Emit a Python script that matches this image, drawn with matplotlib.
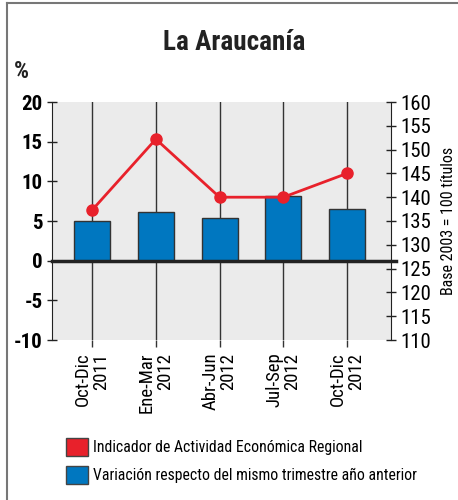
import matplotlib
matplotlib.use('Agg')
import matplotlib.pyplot as plt
from matplotlib.patches import Patch
from matplotlib.lines import Line2D

plt.rcParams['font.family'] = ['Roboto Condensed', 'DejaVu Sans Condensed',
                               'Liberation Sans Narrow', 'Roboto', 'DejaVu Sans']

# Datos trimestrales
trimestres = ['Oct-Dic\n2011', 'Ene-Mar\n2012', 'Abr-Jun\n2012', 'Jul-Sep\n2012', 'Oct-Dic\n2012']
variacion = [5.0, 6.1, 5.4, 8.1, 6.5]          # % respecto mismo trimestre año anterior
indicador = [137.3, 152.2, 140.0, 140.0, 145.0]  # índice base 2003 = 100

rojo = '#E8212B'
azul = '#0077C0'
oscuro = '#222222'

fig = plt.figure(figsize=(4.58, 5.0), dpi=100)
ax = fig.add_axes([52 / 458, 1 - 340 / 500, 339 / 458, 238 / 500])
ax.set_facecolor('#EBEBEB')

x = list(range(len(trimestres)))
ax.bar(x, variacion, width=0.565, color=azul, edgecolor='#333333', linewidth=1, zorder=2)
ax.set_xlim(-0.63, 4.69)
ax.set_ylim(-10, 20)
ax.set_yticks(range(-10, 21, 5))
ax.set_yticklabels([str(v) for v in range(-10, 21, 5)], fontsize=15, fontweight='bold')
ax.set_xticks(x)
ax.set_xticklabels(trimestres, rotation=90, fontsize=13.5, ha='center', va='top',
                   multialignment='right', linespacing=1.0)
ax.xaxis.grid(True, color='#333333', linewidth=1)
ax.set_axisbelow(True)
ax.tick_params(axis='x', length=5, width=1, color='#333333', pad=4)
ax.tick_params(axis='y', direction='inout', length=7, width=1, color=oscuro, pad=3)
for s in ['top', 'bottom', 'right']:
    ax.spines[s].set_visible(False)
ax.spines['left'].set_color(oscuro)

# línea de cero
ax.plot([0, 1.016], [0, 0], transform=ax.get_yaxis_transform(), color=oscuro,
        linewidth=2.5, clip_on=False, zorder=3)

ax2 = ax.twinx()
ax2.plot(x, indicador, color=rojo, linewidth=2, marker='o', markersize=8, zorder=4)
ax2.set_ylim(110, 160)
ax2.set_yticks(range(110, 161, 5))
ax2.set_yticklabels([str(v) for v in range(110, 161, 5)], fontsize=15)
ax2.tick_params(axis='y', direction='inout', length=7, width=1, color=oscuro, pad=3)
for s in ['top', 'bottom', 'left']:
    ax2.spines[s].set_visible(False)
ax2.spines['right'].set_color(oscuro)
ax2.set_ylabel('Base 2003 = 100 títulos', fontsize=11.5, labelpad=7)

fig.text(234 / 458, 1 - 42 / 500, 'La Araucanía', fontsize=19.5, fontweight='bold',
         ha='center', va='center', color=oscuro)
fig.text(14 / 458, 1 - 71 / 500, '%', fontsize=17, fontweight='bold',
         ha='left', va='center', color=oscuro)

handles = [Patch(facecolor=rojo, edgecolor='#444444'),
           Patch(facecolor=azul, edgecolor='#444444')]
fig.legend(handles, ['Indicador de Actividad Económica Regional',
                     'Variación respecto del mismo trimestre año anterior'],
           loc='upper left', bbox_to_anchor=(58 / 458, 1 - 430 / 500), frameon=False,
           fontsize=11.3, handlelength=1.4, handleheight=1.4, handletextpad=0.35,
           labelspacing=0.62, borderpad=0)

# marco
fig.add_artist(Line2D([7 / 458, 7 / 458], [0, 1 - 3 / 500], color='#777777', linewidth=1.5))
fig.add_artist(Line2D([7 / 458, 1], [1 - 3 / 500, 1 - 3 / 500], color='#777777', linewidth=1.5))

fig.savefig('out.png', dpi=100)
